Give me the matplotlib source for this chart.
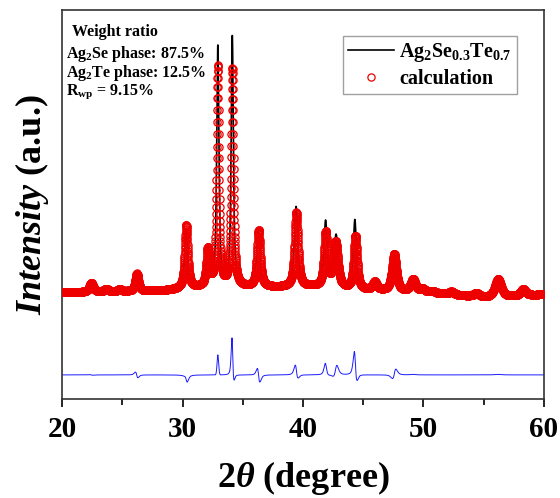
import matplotlib
matplotlib.use("Agg")
import matplotlib.pyplot as plt
import numpy as np
from matplotlib.ticker import MultipleLocator

# --- data (counts, arbitrary units) ---
# background anchors
bg_pos = [20.0, 28.0, 31.4, 35.2, 38.0, 40.7, 45.2, 46.5, 50.5, 53.3, 55.0, 57.3, 60.0]
bg_val = [1000, 1150, 1450, 1500, 1500, 1550, 1200, 1150, 950, 650, 450, 550, 800]

# observed peaks (Ag2Se0.3Te0.7)
obs_pos = [22.41, 23.66, 24.76, 26.17, 30.30, 32.10, 32.93, 34.13, 36.29, 39.43, 41.88,
           42.75, 44.31, 45.96, 47.62, 49.15, 49.95, 50.80, 52.34, 54.42, 56.21, 58.29]
obs_height = [900, 280, 200, 1750, 5800, 3700, 24000, 25000, 5700, 8000, 6500,
              5200, 6900, 800, 3900, 1300, 300, 150, 300, 350, 1850, 650]
obs_fwhm = [0.38, 0.38, 0.38, 0.32, 0.30, 0.30, 0.22, 0.22, 0.32, 0.34, 0.32,
            0.42, 0.30, 0.42, 0.42, 0.48, 0.48, 0.48, 0.52, 0.62, 0.62, 0.52]

# calculated pattern (Rietveld fit)
calc_pos = [22.42, 23.66, 24.77, 26.21, 30.31, 32.10, 32.93, 34.14, 36.32, 39.45, 41.89,
            42.72, 44.36, 45.96, 47.58, 49.15, 49.95, 50.80, 52.34, 54.42, 56.21, 58.29]
calc_height = [900, 280, 200, 1750, 6300, 3700, 22000, 21800, 5650, 7400, 5400,
               4500, 5300, 800, 3700, 1250, 300, 150, 300, 350, 1800, 650]
calc_fwhm = [0.38, 0.38, 0.38, 0.32, 0.31, 0.30, 0.23, 0.235, 0.33, 0.35, 0.34,
             0.44, 0.33, 0.42, 0.43, 0.48, 0.48, 0.48, 0.52, 0.62, 0.62, 0.52]

diff_offset = -7250
eta = 0.75


def profile(tt, pos, height, fwhm):
    y = np.zeros_like(tt)
    for p, h, w in zip(pos, height, fwhm):
        hw = w / 2
        lor = 1 / (1 + ((tt - p) / hw) ** 2)
        gau = np.exp(-np.log(2) * ((tt - p) / hw) ** 2)
        y += h * (eta * lor + (1 - eta) * gau)
    return y


two_theta = np.arange(20, 60.001, 0.01)
bg = np.interp(two_theta, bg_pos, bg_val)
y_obs = bg + profile(two_theta, obs_pos, obs_height, obs_fwhm)
y_calc = bg + profile(two_theta, calc_pos, calc_height, calc_fwhm)
y_diff = y_obs - y_calc

plt.rcParams["font.family"] = ["Liberation Serif", "DejaVu Serif"]
plt.rcParams["font.weight"] = "bold"
plt.rcParams["mathtext.fontset"] = "custom"
plt.rcParams["mathtext.rm"] = "Liberation Serif:bold"
plt.rcParams["mathtext.bf"] = "Liberation Serif:bold"
plt.rcParams["mathtext.it"] = "Liberation Serif:italic:bold"

fig = plt.figure(figsize=(5.6, 4.98), dpi=100)
ax = fig.add_axes([0.111, 0.199, 0.860, 0.781])

ax.plot(two_theta, y_obs, color="black", lw=1.2, zorder=2, label=r"Ag$_2$Se$_{0.3}$Te$_{0.7}$")
ax.plot(two_theta, y_calc, ls="none", marker="o", ms=5.2, mfc="none", mec="#ee0000",
        mew=0.9, zorder=3, label="calculation")
ax.plot(two_theta, y_diff + diff_offset, color="#1a1aff", lw=0.7, zorder=2)

ax.set_xlim(20, 60)
ax.set_ylim(-9650, 29250)
ax.xaxis.set_major_locator(MultipleLocator(10))
ax.xaxis.set_minor_locator(MultipleLocator(5))
ax.set_yticks([])
ax.tick_params(axis="x", which="major", direction="out", length=6, width=1.2, labelsize=21, pad=6)
ax.tick_params(axis="x", which="minor", direction="out", length=4, width=1.2)
for lab in ax.get_xticklabels():
    lab.set_fontweight("bold")
for sp in ax.spines.values():
    sp.set_linewidth(1.2)
    sp.set_color("#333333")

ax.set_xlabel(r"2$\it{\theta}$ (degree)", fontsize=26, fontweight="bold", labelpad=12)
ax.set_ylabel(r"$\it{Intensity}$ (a.u.)", fontsize=26, fontweight="bold", labelpad=8)

txt = dict(transform=ax.transAxes, fontsize=11.5, fontweight="bold", va="center")
ax.text(0.02, 0.943, "Weight ratio", **txt)
ax.text(0.008, 0.888, r"Ag$_2$Se phase: 87.5%", **txt)
ax.text(0.008, 0.838, r"Ag$_2$Te phase: 12.5%", **txt)
ax.text(0.008, 0.790, r"R$_{\mathrm{wp}}$ = 9.15%", **txt)

leg = ax.legend(loc="upper right", bbox_to_anchor=(0.944, 0.933), borderaxespad=0,
                fontsize=14.5, frameon=True, fancybox=False, edgecolor="#888888",
                handlelength=2.3, markerscale=1.0, borderpad=0.25, labelspacing=0.25,
                handletextpad=0.25)
leg.get_frame().set_linewidth(1.0)

fig.savefig("out.png", dpi=100)
